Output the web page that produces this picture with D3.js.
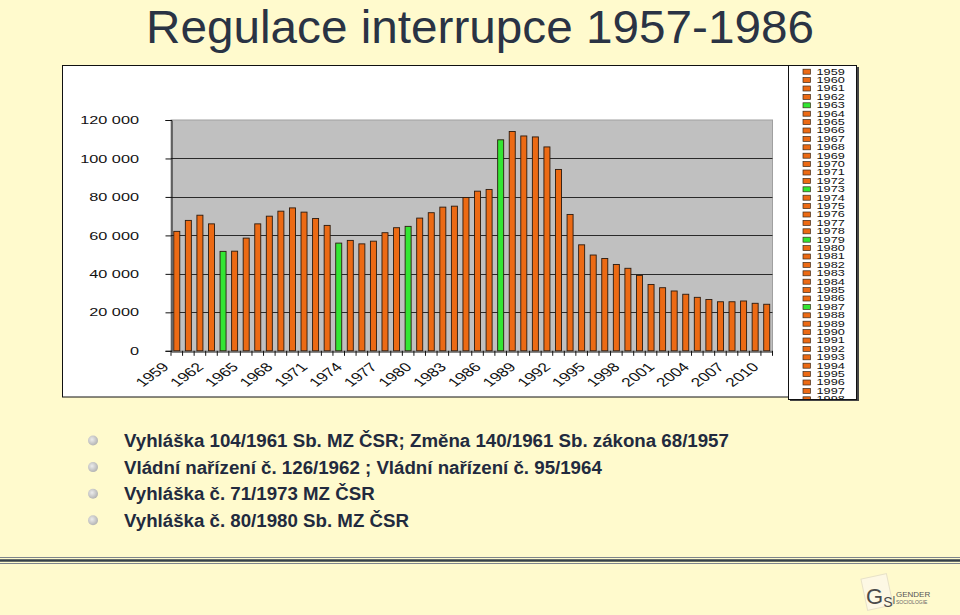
<!DOCTYPE html>
<html>
<head>
<meta charset="utf-8">
<script src="https://cdn.jsdelivr.net/npm/d3@7"></script>
<style>
  html, body { margin: 0; padding: 0; background: #FFFACD; }
  svg { display: block; }
  text { font-family: "Liberation Sans", Arial, sans-serif; }
</style>
</head>
<body>
<svg id="chart" width="960" height="615"></svg>
<script>
// ---------- DATA ----------
const years = [1959,1960,1961,1962,1963,1964,1965,1966,1967,1968,1969,1970,1971,1972,1973,1974,1975,1976,1977,1978,1979,1980,1981,1982,1983,1984,1985,1986,1987,1988,1989,1990,1991,1992,1993,1994,1995,1996,1997,1998,1999,2000,2001,2002,2003,2004,2005,2006,2007,2008,2009,2010];
const abortions = [62100,67800,70500,66000,51700,51800,58600,66000,70000,72600,74300,72100,68800,65200,56000,57400,55600,57000,61400,64000,64700,69000,71800,74700,75200,79700,83000,83900,109700,114000,111700,111200,106000,94300,70900,55100,49800,48000,44900,42900,39200,34500,32800,31100,29400,27800,26700,25500,25500,25900,24700,24200];
const regulationYears = [1963,1973,1979,1987];
const yTicks = [0,20000,40000,60000,80000,100000,120000];
const xTickLabels = [1959,1962,1965,1968,1971,1974,1977,1980,1983,1986,1989,1992,1995,1998,2001,2004,2007,2010];
const titleText = "Regulace interrupce 1957-1986";
const bullets = [
  "Vyhláška 104/1961 Sb. MZ ČSR; Změna 140/1961 Sb. zákona 68/1957",
  "Vládní nařízení č. 126/1962 ; Vládní nařízení č. 95/1964",
  "Vyhláška č. 71/1973 MZ ČSR",
  "Vyhláška č. 80/1980 Sb. MZ ČSR"
];

// ---------- STYLE ----------
const ORANGE = "#EC6A14", GREEN = "#33E633", STRETCH = 1.38;
const svg = d3.select("#chart");
const defs = svg.append("defs");

// Title
svg.append("text").attr("x", 480).attr("y", 42.5).attr("text-anchor", "middle")
  .attr("font-size", 46).attr("textLength", 668).attr("lengthAdjust", "spacingAndGlyphs")
  .attr("fill", "#2a3344").text(titleText);

// Chart frame
svg.append("rect").attr("x", 62.5).attr("y", 65.5).attr("width", 726).attr("height", 331.5)
  .attr("fill", "#fff").attr("stroke", "#111").attr("stroke-width", 1);

// Scales
const x = d3.scaleBand().domain(years).range([171, 772.5]).paddingInner(0.48).paddingOuter(0.24);
const y = d3.scaleLinear().domain([0, 120000]).range([350.8, 120]);

// Plot area
svg.append("rect").attr("x", 171).attr("y", y(120000)).attr("width", 601.5).attr("height", y(0) - y(120000))
  .attr("fill", "#C0C0C0").attr("stroke", "#a0a0a0").attr("stroke-width", 1);

// Gridlines
svg.append("g").selectAll("line").data(yTicks.filter(d => d > 0 && d < 120000)).join("line")
  .attr("x1", 171).attr("x2", 772.5).attr("y1", d => Math.round(y(d)) + 0.5).attr("y2", d => Math.round(y(d)) + 0.5)
  .attr("stroke", "#2a2a2a").attr("stroke-width", 1);

// Bars
svg.append("g").selectAll("rect").data(years).join("rect")
  .attr("x", d => x(d)).attr("width", x.bandwidth())
  .attr("y", (d, i) => y(abortions[i])).attr("height", (d, i) => y(0) - y(abortions[i]))
  .attr("fill", d => regulationYears.includes(d) ? GREEN : ORANGE)
  .attr("stroke", "#2b1a0e").attr("stroke-width", 0.9);

// Y axis
const yAxis = svg.append("g").attr("transform", "translate(171.5,0)")
  .call(d3.axisLeft(y).tickValues(yTicks).tickSize(6).tickFormat(() => ""));
yAxis.select(".domain").attr("stroke", "#111");
yAxis.selectAll(".tick line").attr("stroke", "#111");
svg.append("g").selectAll("text").data(yTicks).join("text")
  .attr("transform", d => `translate(139,${y(d)}) scale(${STRETCH},1)`)
  .attr("text-anchor", "end").attr("dy", "0.35em").attr("font-size", 11.8).attr("fill", "#111")
  .text(d => d3.format(",")(d).replace(/,/g, " "));

// X axis
const xAxis = svg.append("g").attr("transform", `translate(0,${Math.round(y(0)) + 0.5})`)
  .call(d3.axisBottom(x).tickSize(0).tickFormat(() => ""));
xAxis.select(".domain").attr("stroke", "#111");
const bounds = years.map(d => x(d) - x.step() * 0.24).concat([772.5]);
svg.append("g").selectAll("line").data(bounds).join("line")
  .attr("x1", d => d).attr("x2", d => d).attr("y1", y(0)).attr("y2", y(0) + 5)
  .attr("stroke", "#111");
svg.append("g").selectAll("g").data(xTickLabels).join("g")
  .attr("transform", d => `translate(${x(d) + x.bandwidth() / 2 - 7},${y(0) + 17}) scale(${STRETCH},1)`)
  .append("text").attr("transform", "rotate(-45)")
  .attr("text-anchor", "end").attr("font-size", 12.5).attr("fill", "#111").text(d => d);

// Legend
defs.append("clipPath").attr("id", "legclip").append("rect")
  .attr("x", 788).attr("y", 65).attr("width", 70).attr("height", 334);
svg.append("rect").attr("x", 790).attr("y", 67).attr("width", 69).attr("height", 334).attr("fill", "#444");
svg.append("rect").attr("x", 788.5).attr("y", 65.5).attr("width", 68).attr("height", 334)
  .attr("fill", "#fff").attr("stroke", "#111").attr("stroke-width", 1);
const leg = svg.append("g").attr("clip-path", "url(#legclip)");
const legItems = leg.selectAll("g").data(years).join("g")
  .attr("transform", (d, i) => `translate(0,${71.7 + i * 8.4})`);
legItems.append("rect").attr("x", 803).attr("y", -2.5).attr("width", 7.5).attr("height", 5)
  .attr("fill", d => regulationYears.includes(d) ? GREEN : ORANGE).attr("stroke", "#3a2a1a").attr("stroke-width", 0.7);
legItems.append("text").attr("transform", "translate(816.5,0) scale(1.55,1)")
  .attr("dy", "0.36em").attr("font-size", 8.2).attr("fill", "#111").text(d => d);
svg.append("line").attr("x1", 788.5).attr("x2", 857).attr("y1", 399.5).attr("y2", 399.5).attr("stroke", "#111");

// Bulleted text
const bg = defs.append("radialGradient").attr("id", "bul").attr("cx", "40%").attr("cy", "40%").attr("r", "60%");
bg.append("stop").attr("offset", "0%").attr("stop-color", "#ececec");
bg.append("stop").attr("offset", "100%").attr("stop-color", "#b4b4b4");
const bl = svg.append("g").selectAll("g").data(bullets).join("g")
  .attr("transform", (d, i) => `translate(0,${440.5 + i * 26.6})`);
bl.append("circle").attr("cx", 93).attr("cy", 0).attr("r", 5).attr("fill", "url(#bul)");
bl.append("text").attr("x", 124).attr("y", 6.7).attr("font-size", 18.7).attr("font-weight", "bold")
  .attr("fill", "#222a3e").text(d => d);

// Bottom rule
svg.append("line").attr("x1", 0).attr("x2", 960).attr("y1", 557.5).attr("y2", 557.5).attr("stroke", "#7d848c").attr("stroke-width", 1);
svg.append("line").attr("x1", 0).attr("x2", 960).attr("y1", 560.5).attr("y2", 560.5).attr("stroke", "#36404a").attr("stroke-width", 2.5);
svg.append("line").attr("x1", 0).attr("x2", 960).attr("y1", 563.5).attr("y2", 563.5).attr("stroke", "#7d848c").attr("stroke-width", 1);

// Logo
const logo = svg.append("g");
logo.append("rect").attr("x", 864).attr("y", 576).attr("width", 26).attr("height", 32)
  .attr("transform", "rotate(-12,877,592)").attr("fill", "#fdf8e4").attr("stroke", "#e8e2c8");
const mono = logo.append("text").attr("x", 866).attr("y", 604).attr("font-family", "'Liberation Serif', serif")
  .attr("fill", "#4a4a4a");
mono.append("tspan").attr("font-size", 22).text("G");
mono.append("tspan").attr("font-size", 14).attr("dy", 3).text("S");
mono.append("tspan").attr("font-size", 10).attr("dy", -3).text("I");
logo.append("text").attr("x", 896).attr("y", 596.5).attr("font-family", "'Liberation Serif', serif")
  .attr("font-size", 8).attr("fill", "#555").text("GENDER");
logo.append("text").attr("x", 896).attr("y", 604).attr("font-family", "'Liberation Serif', serif")
  .attr("font-size", 5).attr("fill", "#666").text("SOCIOLOGIE");
</script>
</body>
</html>
